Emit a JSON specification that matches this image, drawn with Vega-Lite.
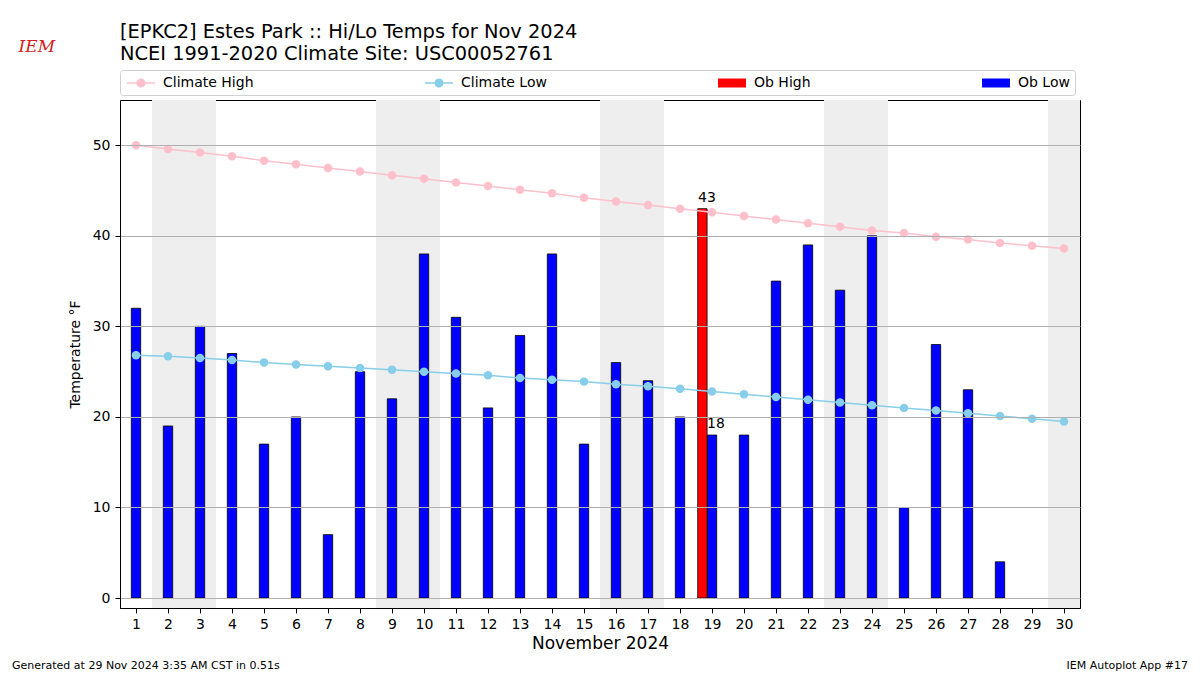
{
  "$schema": "https://vega.github.io/schema/vega-lite/v6.json",
  "width": 960,
  "height": 508,
  "autosize": {"type": "none"},
  "padding": {"left": 120, "top": 100, "right": 120, "bottom": 67},
  "config": {
    "font": "DejaVu Sans",
    "view": {"stroke": "black", "strokeWidth": 1},
    "axis": {"labelColor": "black", "titleColor": "black", "tickColor": "black", "domainColor": "black", "labelFontSize": 14, "titleFontWeight": "normal", "labelFont": "DejaVu Sans", "titleFont": "DejaVu Sans"},
    "axisX": {"labelOverlap": false, "tickCount": 40}
  },
  "title": {
    "text": "[EPKC2] Estes Park :: Hi/Lo Temps for Nov 2024",
    "subtitle": "NCEI 1991-2020 Climate Site: USC00052761",
    "anchor": "start",
    "frame": "group",
    "fontSize": 19.4,
    "fontWeight": "normal",
    "color": "black",
    "subtitleFontSize": 19.4,
    "subtitleColor": "black",
    "subtitlePadding": 3,
    "font": "DejaVu Sans",
    "subtitleFont": "DejaVu Sans",
    "offset": -27
  },
  "datasets": {
    "days": [
      {"day": 1, "climate_high": 50.0, "climate_low": 26.8, "ob_high": null, "ob_low": 32},
      {"day": 2, "climate_high": 49.6, "climate_low": 26.7, "ob_high": null, "ob_low": 19},
      {"day": 3, "climate_high": 49.2, "climate_low": 26.5, "ob_high": null, "ob_low": 30},
      {"day": 4, "climate_high": 48.8, "climate_low": 26.3, "ob_high": null, "ob_low": 27},
      {"day": 5, "climate_high": 48.3, "climate_low": 26.0, "ob_high": null, "ob_low": 17},
      {"day": 6, "climate_high": 47.9, "climate_low": 25.8, "ob_high": null, "ob_low": 20},
      {"day": 7, "climate_high": 47.5, "climate_low": 25.6, "ob_high": null, "ob_low": 7},
      {"day": 8, "climate_high": 47.1, "climate_low": 25.4, "ob_high": null, "ob_low": 25},
      {"day": 9, "climate_high": 46.7, "climate_low": 25.2, "ob_high": null, "ob_low": 22},
      {"day": 10, "climate_high": 46.3, "climate_low": 25.0, "ob_high": null, "ob_low": 38},
      {"day": 11, "climate_high": 45.9, "climate_low": 24.8, "ob_high": null, "ob_low": 31},
      {"day": 12, "climate_high": 45.5, "climate_low": 24.6, "ob_high": null, "ob_low": 21},
      {"day": 13, "climate_high": 45.1, "climate_low": 24.3, "ob_high": null, "ob_low": 29},
      {"day": 14, "climate_high": 44.7, "climate_low": 24.1, "ob_high": null, "ob_low": 38},
      {"day": 15, "climate_high": 44.2, "climate_low": 23.9, "ob_high": null, "ob_low": 17},
      {"day": 16, "climate_high": 43.8, "climate_low": 23.6, "ob_high": null, "ob_low": 26},
      {"day": 17, "climate_high": 43.4, "climate_low": 23.4, "ob_high": null, "ob_low": 24},
      {"day": 18, "climate_high": 43.0, "climate_low": 23.1, "ob_high": null, "ob_low": 20},
      {"day": 19, "climate_high": 42.6, "climate_low": 22.8, "ob_high": 43, "ob_low": 18},
      {"day": 20, "climate_high": 42.2, "climate_low": 22.5, "ob_high": null, "ob_low": 18},
      {"day": 21, "climate_high": 41.8, "climate_low": 22.2, "ob_high": null, "ob_low": 35},
      {"day": 22, "climate_high": 41.4, "climate_low": 21.9, "ob_high": null, "ob_low": 39},
      {"day": 23, "climate_high": 41.0, "climate_low": 21.6, "ob_high": null, "ob_low": 34},
      {"day": 24, "climate_high": 40.6, "climate_low": 21.3, "ob_high": null, "ob_low": 40},
      {"day": 25, "climate_high": 40.3, "climate_low": 21.0, "ob_high": null, "ob_low": 10},
      {"day": 26, "climate_high": 39.9, "climate_low": 20.7, "ob_high": null, "ob_low": 28},
      {"day": 27, "climate_high": 39.6, "climate_low": 20.4, "ob_high": null, "ob_low": 23},
      {"day": 28, "climate_high": 39.2, "climate_low": 20.1, "ob_high": null, "ob_low": 4},
      {"day": 29, "climate_high": 38.9, "climate_low": 19.8, "ob_high": null, "ob_low": null},
      {"day": 30, "climate_high": 38.6, "climate_low": 19.5, "ob_high": null, "ob_low": null}
    ],
    "weekends": [
      {"start": 1.5, "end": 3.5},
      {"start": 8.5, "end": 10.5},
      {"start": 15.5, "end": 17.5},
      {"start": 22.5, "end": 24.5},
      {"start": 29.5, "end": 30.5}
    ]
  },
  "layer": [
    {
      "data": {"name": "weekends"},
      "mark": {"type": "rect", "color": "#eeeeee"},
      "encoding": {
        "x": {"field": "start", "type": "quantitative", "scale": {"domain": [0.5, 30.5], "nice": false, "zero": false, "padding": 0},
          "axis": {"values": [1,2,3,4,5,6,7,8,9,10,11,12,13,14,15,16,17,18,19,20,21,22,23,24,25,26,27,28,29,30], "tickCount": 40, "labelOverlap": false, "title": "November 2024", "titleFontSize": 17, "titlePadding": 4, "grid": false, "tickSize": 5, "labelPadding": 4, "zindex": 1}},
        "x2": {"field": "end"}
      }
    },
    {
      "data": {"name": "days"},
      "transform": [{"filter": "datum.ob_low != null"}],
      "mark": {"type": "bar", "orient": "vertical", "width": 9.4, "stroke": "black", "strokeWidth": 0.8},
      "encoding": {
        "x": {"field": "day", "type": "quantitative",
          "axis": {"values": [1,2,3,4,5,6,7,8,9,10,11,12,13,14,15,16,17,18,19,20,21,22,23,24,25,26,27,28,29,30], "tickCount": 40, "labelOverlap": false, "title": "November 2024", "titleFontSize": 17, "titlePadding": 4, "grid": false, "tickSize": 5, "labelPadding": 4, "zindex": 1}},
        "y": {"field": "ob_low", "type": "quantitative", "scale": {"domain": [-1.1, 55], "nice": false, "zero": false, "padding": 0},
          "axis": {"values": [0, 10, 20, 30, 40, 50], "title": "Temperature °F", "titleFontSize": 14, "titlePadding": 10, "grid": true, "gridColor": "#b0b0b0", "gridWidth": 1, "tickSize": 5, "labelPadding": 5, "zindex": 1}},
        "y2": {"datum": 0},
        "color": {"datum": "Ob Low", "type": "nominal",
          "scale": {"domain": ["Climate High", "Climate Low", "Ob High", "Ob Low"], "range": ["#ffc0cb", "#87ceeb", "#ff0000", "#0000ff"]},
          "legend": {
            "orient": "top", "direction": "horizontal", "columns": 4, "title": null,
            "labelFontSize": 14, "labelColor": "black", "labelFont": "DejaVu Sans",
            "symbolSize": 256, "symbolOffset": 8, "labelOffset": 14, "columnPadding": 169,
            "padding": 5, "strokeColor": "#d0d0d0", "cornerRadius": 3, "offset": 5,
            "symbolStrokeWidth": 0, "symbolOpacity": 1
          }}
      }
    },
    {
      "data": {"values": []},
      "mark": {"type": "point", "filled": true},
      "encoding": {
        "shape": {"datum": "Ob Low", "type": "nominal",
          "scale": {"domain": ["Climate High", "Climate Low", "Ob High", "Ob Low"],
            "range": [
              "M-1.75,-0.094H1.75V0.094H-1.75Z M0.5625,0 A0.5625,0.5625 0 1,1 -0.5625,0 A0.5625,0.5625 0 1,1 0.5625,0Z",
              "M-1.75,-0.094H1.75V0.094H-1.75Z M0.5625,0 A0.5625,0.5625 0 1,1 -0.5625,0 A0.5625,0.5625 0 1,1 0.5625,0Z",
              "M-1.75,-0.5625H1.75V0.5625H-1.75Z",
              "M-1.75,-0.5625H1.75V0.5625H-1.75Z"
            ]},
          "legend": {
            "orient": "top", "direction": "horizontal", "columns": 4, "title": null,
            "labelFontSize": 14, "labelColor": "black", "labelFont": "DejaVu Sans",
            "symbolSize": 256, "symbolOffset": 8, "labelOffset": 14, "columnPadding": 169,
            "padding": 5, "strokeColor": "#d0d0d0", "cornerRadius": 3, "offset": 5,
            "symbolStrokeWidth": 0, "symbolOpacity": 1
          }},
        "color": {"datum": "Ob Low", "type": "nominal"}
      }
    },
    {
      "data": {"name": "days"},
      "transform": [{"filter": "datum.ob_high != null"}],
      "mark": {"type": "bar", "orient": "vertical", "width": 9.4, "xOffset": -9.6, "stroke": "black", "strokeWidth": 0.8},
      "encoding": {
        "x": {"field": "day", "type": "quantitative"},
        "y": {"field": "ob_high", "type": "quantitative"},
        "y2": {"datum": 0},
        "color": {"datum": "Ob High", "type": "nominal"}
      }
    },
    {
      "data": {"name": "days"},
      "mark": {"type": "line", "strokeWidth": 1.5, "point": {"filled": true, "size": 72, "opacity": 1}},
      "encoding": {
        "x": {"field": "day", "type": "quantitative"},
        "y": {"field": "climate_low", "type": "quantitative"},
        "color": {"datum": "Climate Low", "type": "nominal"}
      }
    },
    {
      "data": {"name": "days"},
      "mark": {"type": "line", "strokeWidth": 1.5, "point": {"filled": true, "size": 72, "opacity": 1}},
      "encoding": {
        "x": {"field": "day", "type": "quantitative"},
        "y": {"field": "climate_high", "type": "quantitative"},
        "color": {"datum": "Climate High", "type": "nominal"}
      }
    },
    {
      "data": {"values": [{"day": 19, "value": 43, "label": "43"}]},
      "mark": {"type": "text", "fontSize": 14, "color": "black", "dx": -5, "dy": -7, "baseline": "alphabetic", "align": "center"},
      "encoding": {
        "x": {"field": "day", "type": "quantitative"},
        "y": {"field": "value", "type": "quantitative"},
        "text": {"field": "label"}
      }
    },
    {
      "data": {"values": [{"day": 19, "value": 18, "label": "18"}]},
      "mark": {"type": "text", "fontSize": 14, "color": "black", "dx": 4, "dy": -7, "baseline": "alphabetic", "align": "center"},
      "encoding": {
        "x": {"field": "day", "type": "quantitative"},
        "y": {"field": "value", "type": "quantitative"},
        "text": {"field": "label"}
      }
    },
    {
      "data": {"values": [{"day": -2.875, "value": -7.5, "label": "Generated at 29 Nov 2024 3:35 AM CST in 0.51s"}]},
      "mark": {"type": "text", "fontSize": 11, "color": "black", "align": "left", "baseline": "middle", "clip": false},
      "encoding": {
        "x": {"field": "day", "type": "quantitative"},
        "y": {"field": "value", "type": "quantitative"},
        "text": {"field": "label"}
      }
    },
    {
      "data": {"values": [{"day": 33.875, "value": -7.5, "label": "IEM Autoplot App #17"}]},
      "mark": {"type": "text", "fontSize": 11, "color": "black", "align": "right", "baseline": "middle", "clip": false},
      "encoding": {
        "x": {"field": "day", "type": "quantitative"},
        "y": {"field": "value", "type": "quantitative"},
        "text": {"field": "label"}
      }
    },
    {
      "data": {"values": [{"day": -2.1, "value": 60.9, "label": "IEM"}]},
      "mark": {"type": "text", "fontSize": 17, "font": "DejaVu Serif", "fontStyle": "italic", "color": "#d42020", "align": "center", "baseline": "middle", "clip": false},
      "encoding": {
        "x": {"field": "day", "type": "quantitative"},
        "y": {"field": "value", "type": "quantitative"},
        "text": {"field": "label"}
      }
    }
  ]
}
